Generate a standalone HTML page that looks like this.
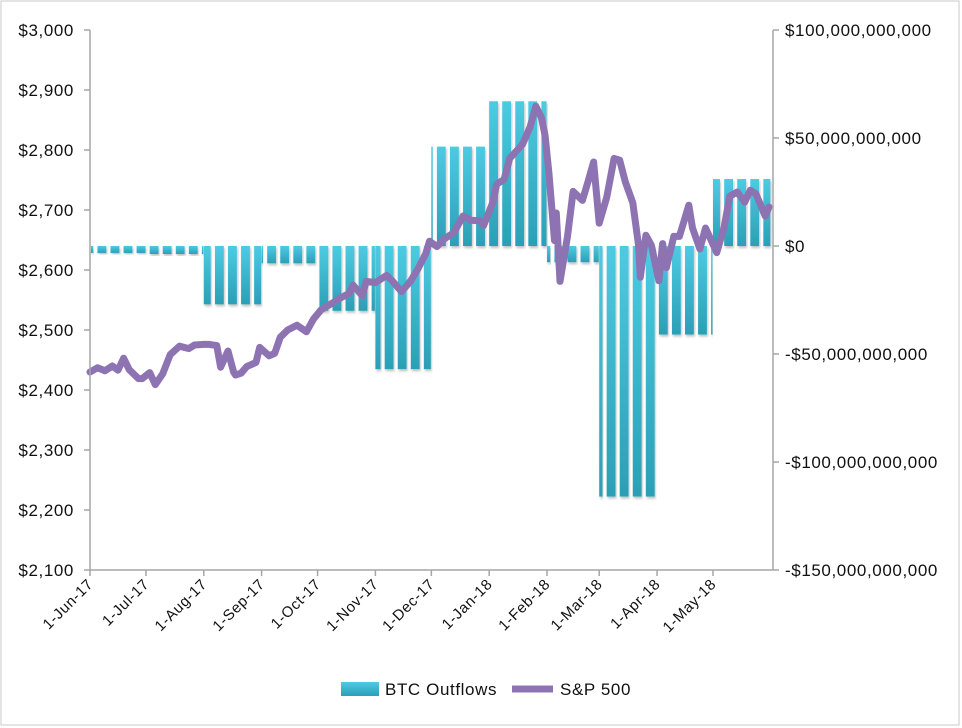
<!DOCTYPE html>
<html><head><meta charset="utf-8">
<style>
html,body{margin:0;padding:0;background:#fff;}
svg{display:block;font-family:"Liberation Sans",Arial,sans-serif;}
text{letter-spacing:0.6px;}
</style></head>
<body>
<svg id="chart" width="962" height="728" viewBox="0 0 962 728">
<defs>
<linearGradient id="barg" x1="0" y1="0" x2="0" y2="1">
<stop offset="0" stop-color="#4ccbe2"/><stop offset="1" stop-color="#2b9fb6"/>
</linearGradient>
<filter id="sh" x="-20%" y="-20%" width="140%" height="140%"><feDropShadow dx="1" dy="2" stdDeviation="1.2" flood-color="#000" flood-opacity="0.25"/></filter>
</defs>
<rect x="1" y="1" width="958" height="724" fill="#fff" stroke="#c8c8c8"/>
<g id="bars"></g>
<g id="line"></g>
<g id="axes"></g>
<g>
<g>
<rect x="341" y="682" width="38" height="14" fill="url(#barg)"/>
<text x="385" y="695" font-size="17" fill="#111">BTC Outflows</text></g>
<g>
<line x1="512" y1="689" x2="553" y2="689" stroke="#8e73b3" stroke-width="7"/>
<text x="560" y="695" font-size="17" fill="#111">S&amp;P 500</text></g>
</g>
</svg>
<script>
const monthKeys=["2017-06","2017-07","2017-08","2017-09","2017-10","2017-11","2017-12","2018-01","2018-02","2018-03","2018-04","2018-05"];
const outflowsB=[-3.2,-3.7,-27,-8,-30,-57,46,67,-7.5,-116,-41,31];
const spDates=["2017-06-01","2017-06-05","2017-06-09","2017-06-13","2017-06-16","2017-06-19","2017-06-22","2017-06-27","2017-06-29","2017-07-03","2017-07-06","2017-07-10","2017-07-14","2017-07-19","2017-07-24","2017-07-27","2017-08-01","2017-08-04","2017-08-08","2017-08-10","2017-08-14","2017-08-17","2017-08-18","2017-08-21","2017-08-24","2017-08-29","2017-08-31","2017-09-05","2017-09-08","2017-09-11","2017-09-15","2017-09-20","2017-09-25","2017-09-29","2017-10-03","2017-10-09","2017-10-13","2017-10-18","2017-10-20","2017-10-25","2017-10-27","2017-11-01","2017-11-07","2017-11-10","2017-11-15","2017-11-20","2017-11-24","2017-11-28","2017-11-30","2017-12-04","2017-12-08","2017-12-13","2017-12-18","2017-12-22","2017-12-27","2017-12-29","2018-01-03","2018-01-05","2018-01-09","2018-01-12","2018-01-17","2018-01-19","2018-01-23","2018-01-26","2018-01-29","2018-01-31","2018-02-02","2018-02-05","2018-02-06","2018-02-08","2018-02-12","2018-02-15","2018-02-20","2018-02-23","2018-02-26","2018-03-01","2018-03-05","2018-03-09","2018-03-12","2018-03-15","2018-03-19","2018-03-22","2018-03-23","2018-03-26","2018-03-29","2018-04-02","2018-04-04","2018-04-06","2018-04-10","2018-04-13","2018-04-18","2018-04-20","2018-04-24","2018-04-27","2018-05-02","2018-05-03","2018-05-07","2018-05-10","2018-05-14","2018-05-18","2018-05-21","2018-05-24","2018-05-29","2018-05-31"];
const spValues=[2430,2437,2432,2440,2433,2453,2434,2419,2419,2429,2409,2427,2459,2473,2469,2475,2476,2476,2474,2438,2465,2430,2425,2428,2439,2446,2471,2457,2461,2488,2500,2508,2497,2519,2534,2545,2553,2561,2575,2557,2581,2579,2591,2582,2564,2582,2603,2627,2648,2639,2652,2662,2690,2683,2682,2674,2713,2743,2751,2786,2803,2810,2839,2873,2854,2824,2762,2649,2695,2581,2656,2731,2716,2747,2780,2678,2721,2786,2783,2747,2712,2643,2588,2658,2641,2582,2644,2604,2656,2656,2708,2670,2635,2670,2636,2629,2672,2723,2730,2713,2733,2727,2690,2705];
const leftTicks=["$2,100","$2,200","$2,300","$2,400","$2,500","$2,600","$2,700","$2,800","$2,900","$3,000"];
const leftTickVals=[2100,2200,2300,2400,2500,2600,2700,2800,2900,3000];
const rightTicks=["-$150,000,000,000","-$100,000,000,000","-$50,000,000,000","$0","$50,000,000,000","$100,000,000,000"];
const rightTickVals=[-150,-100,-50,0,50,100];
const xTicks=["1-Jun-17","1-Jul-17","1-Aug-17","1-Sep-17","1-Oct-17","1-Nov-17","1-Dec-17","1-Jan-18","1-Feb-18","1-Mar-18","1-Apr-18","1-May-18"];
const xTickDates=["2017-06-01","2017-07-01","2017-08-01","2017-09-01","2017-10-01","2017-11-01","2017-12-01","2018-01-01","2018-02-01","2018-03-01","2018-04-01","2018-05-01"];

const NS="http://www.w3.org/2000/svg";
const X0=90,X1=773,Y0=30,Y1=570;
const D0=Date.UTC(2017,5,1), DAY=86400000, PXD=(713-90)/334;
function dnum(s){const p=s.split("-");return (Date.UTC(+p[0],+p[1]-1,+p[2])-D0)/DAY;}
function xs(d){return X0+d*PXD;}
function yl(v){return Y0+(3000-v)/900*(Y1-Y0);}
function yr(v){return Y0+(100-v)/250*(Y1-Y0);}
function mk(tag,attrs,parent){const e=document.createElementNS(NS,tag);for(const k in attrs)e.setAttribute(k,attrs[k]);parent.appendChild(e);return e;}

const bars=document.getElementById("bars");
const lastDay=Math.floor((X1-X0)/PXD);
let start=null;
function flush(s,e){
  const dt=new Date(D0+s*DAY);
  const key=dt.getUTCFullYear()+"-"+String(dt.getUTCMonth()+1).padStart(2,"0");
  const i=monthKeys.indexOf(key); if(i<0)return;
  const v=outflowsB[i];
  const xa=Math.max(X0+1,xs(s)), xb=Math.min(X1-1,xs(e+1)-0.5);
  const ya=Math.min(yr(0),yr(v)), h=Math.abs(yr(v)-yr(0));
  const r=mk("rect",{x:xa,y:ya,width:Math.max(0,xb-xa),height:h,fill:"url(#barg)",filter:"url(#sh)"},bars);
  
  
}
for(let d=0;d<=lastDay;d++){
  const dt=new Date(D0+d*DAY), wd=dt.getUTCDay();
  const weekday=wd>=1&&wd<=5;
  const prevMonth=d>0?new Date(D0+(d-1)*DAY).getUTCMonth():dt.getUTCMonth();
  if(start!==null&&(!weekday||dt.getUTCMonth()!==prevMonth)){flush(start,d-1);start=null;}
  if(weekday&&start===null)start=d;
}
if(start!==null)flush(start,lastDay);

const lg=document.getElementById("line");
let dstr="";
spDates.forEach((s,i)=>{dstr+=(i?"L":"M")+xs(dnum(s)).toFixed(1)+","+yl(spValues[i]).toFixed(1);});
const pl=mk("path",{d:dstr,fill:"none",stroke:"#8e73b3","stroke-width":7,"stroke-linejoin":"round","stroke-linecap":"round"},lg);



const ax=document.getElementById("axes");
mk("line",{x1:X0,y1:Y0,x2:X0,y2:Y1,stroke:"#a6a6a6","stroke-width":1.5},ax);
mk("line",{x1:X1,y1:Y0,x2:X1,y2:Y1,stroke:"#a6a6a6","stroke-width":1.5},ax);
mk("line",{x1:X0,y1:Y1,x2:X1,y2:Y1,stroke:"#a6a6a6","stroke-width":1.5},ax);
leftTickVals.forEach((v,i)=>{
  const y=yl(v);
  mk("line",{x1:X0-6,y1:y,x2:X0,y2:y,stroke:"#a6a6a6","stroke-width":1.5},ax);
  const t=mk("text",{x:X0-16,y:y+6,"text-anchor":"end","font-size":17,fill:"#111"},ax);t.textContent=leftTicks[i];
  
  
});
rightTickVals.forEach((v,i)=>{
  const y=yr(v);
  mk("line",{x1:X1,y1:y,x2:X1+6,y2:y,stroke:"#a6a6a6","stroke-width":1.5},ax);
  const t=mk("text",{x:X1+12,y:y+6,"font-size":17,fill:"#111"},ax);t.textContent=rightTicks[i];
  
  
});
xTickDates.forEach((s,i)=>{
  const x=xs(dnum(s));
  mk("line",{x1:x,y1:Y1,x2:x,y2:Y1+6,stroke:"#a6a6a6","stroke-width":1.5},ax);
  const t=mk("text",{x:x+4,y:Y1+15,"text-anchor":"end","font-size":15,fill:"#111",transform:"rotate(-45 "+(x+4)+" "+(Y1+15)+")"},ax);t.textContent=xTicks[i];
  
  
});
</script>
</body></html>
